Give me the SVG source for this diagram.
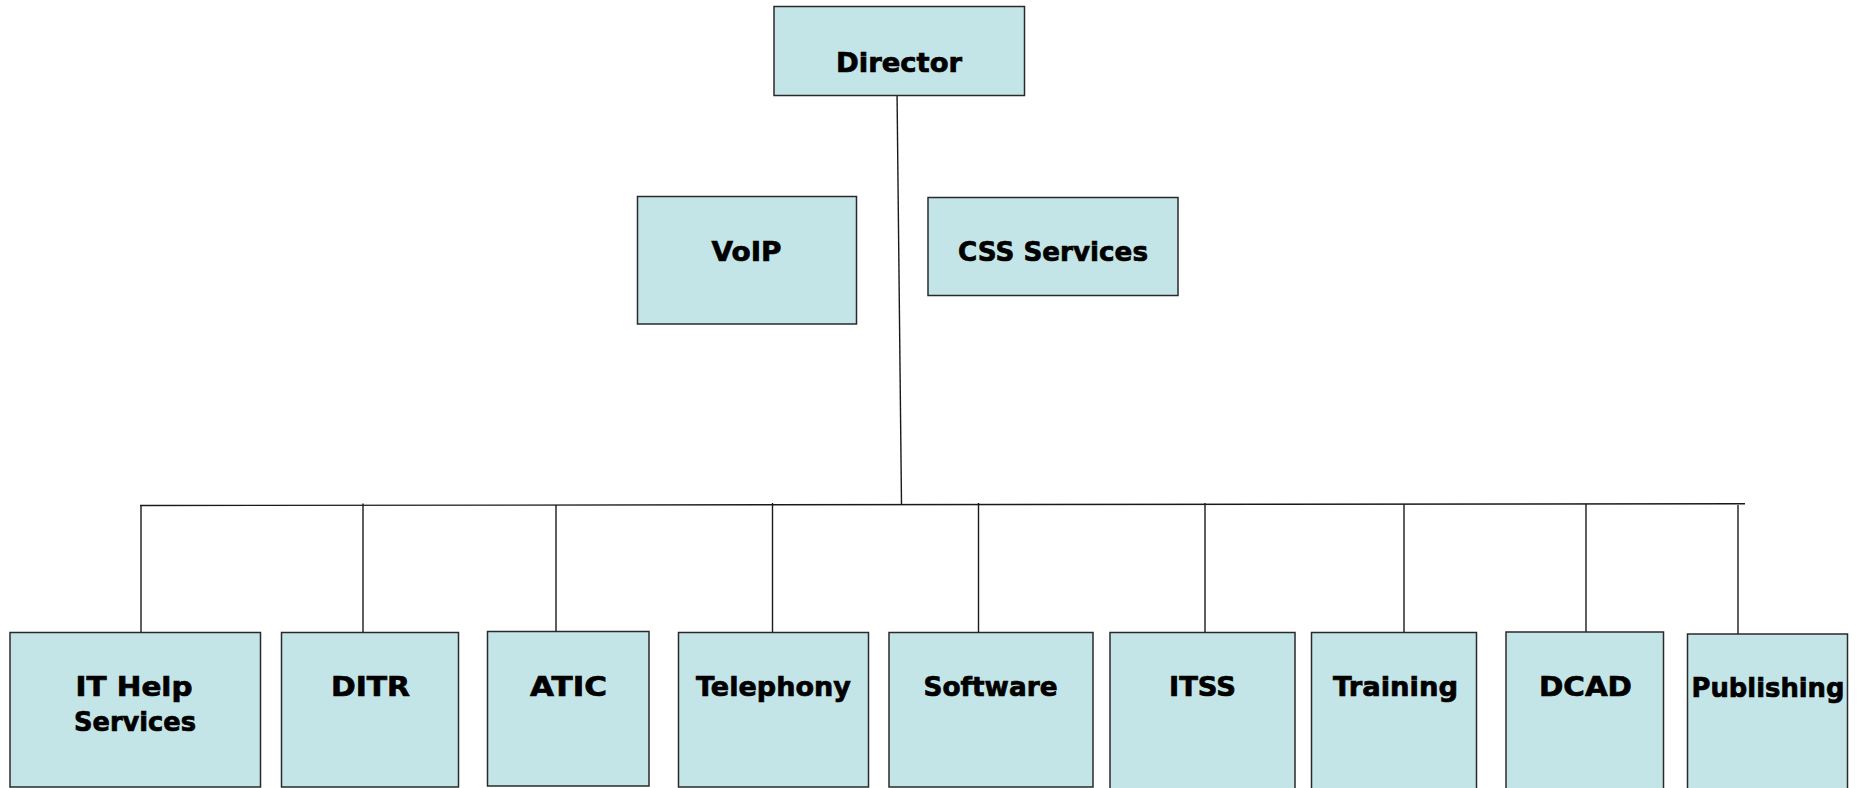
<svg xmlns="http://www.w3.org/2000/svg" width="1867" height="788" viewBox="0 0 1867 788">
  <style>
    .box { fill: #c4e5e7; stroke: #2a2a2a; stroke-width: 1.5; }
    .lbl { font-family: "DejaVu Sans", "Liberation Sans", sans-serif; font-weight: bold; font-size: 27px; fill: #000; stroke: #000; stroke-width: 0.7; text-anchor: middle; }
    .wire { stroke: #1a1a1a; stroke-width: 1.4; fill: none; }
  </style>
  <rect width="1867" height="788" fill="#ffffff"/>

  <!-- reporting lines -->
  <g id="connectors">
    <line class="wire" x1="897" y1="90" x2="901.5" y2="504.5"/>
    <line class="wire" x1="140" y1="505.5" x2="1745" y2="503.7"/>
    <line class="wire" x1="141" y1="505.5" x2="141" y2="632"/>
    <line class="wire" x1="363" y1="503.5" x2="363" y2="632"/>
    <line class="wire" x1="556" y1="505" x2="556" y2="631"/>
    <line class="wire" x1="772.5" y1="503" x2="772.5" y2="632"/>
    <line class="wire" x1="978.5" y1="503" x2="978.5" y2="632"/>
    <line class="wire" x1="1205" y1="503" x2="1205" y2="632"/>
    <line class="wire" x1="1404" y1="504" x2="1404" y2="633"/>
    <line class="wire" x1="1586" y1="504" x2="1586" y2="632"/>
    <line class="wire" x1="1738" y1="505" x2="1738" y2="634"/>
  </g>

  <g id="director">
    <rect class="box" x="774" y="6.5" width="250.5" height="89"/>
    <text class="lbl" x="899" y="72" textLength="126" lengthAdjust="spacingAndGlyphs">Director</text>
  </g>

  <g id="voip">
    <rect class="box" x="637.5" y="196.5" width="219" height="127.5"/>
    <text class="lbl" x="746.5" y="261" textLength="70" lengthAdjust="spacingAndGlyphs">VoIP</text>
  </g>

  <g id="css-services">
    <rect class="box" x="928" y="197.5" width="250" height="98"/>
    <text class="lbl" x="1053" y="261" textLength="190" lengthAdjust="spacingAndGlyphs">CSS Services</text>
  </g>

  <g id="it-help-services">
    <rect class="box" x="10" y="632.5" width="250.5" height="154.5"/>
    <text class="lbl" x="134" y="696" textLength="117" lengthAdjust="spacingAndGlyphs">IT Help</text>
    <text class="lbl" x="135" y="731" textLength="122" lengthAdjust="spacingAndGlyphs">Services</text>
  </g>

  <g id="ditr">
    <rect class="box" x="281.5" y="632.5" width="177" height="154.5"/>
    <text class="lbl" x="370.5" y="696" textLength="79" lengthAdjust="spacingAndGlyphs">DITR</text>
  </g>

  <g id="atic">
    <rect class="box" x="487.5" y="631.5" width="161.5" height="154.5"/>
    <text class="lbl" x="568.5" y="696" textLength="77" lengthAdjust="spacingAndGlyphs">ATIC</text>
  </g>

  <g id="telephony">
    <rect class="box" x="678.5" y="632.5" width="190" height="154.5"/>
    <text class="lbl" x="773.5" y="696" textLength="155" lengthAdjust="spacingAndGlyphs">Telephony</text>
  </g>

  <g id="software">
    <rect class="box" x="889" y="632.5" width="204" height="154.5"/>
    <text class="lbl" x="990.5" y="696" textLength="134" lengthAdjust="spacingAndGlyphs">Software</text>
  </g>

  <g id="itss">
    <rect class="box" x="1110" y="632.5" width="185" height="160"/>
    <text class="lbl" x="1202.5" y="696" textLength="67" lengthAdjust="spacingAndGlyphs">ITSS</text>
  </g>

  <g id="training">
    <rect class="box" x="1311.5" y="632.5" width="165" height="160"/>
    <text class="lbl" x="1395.5" y="696" textLength="125" lengthAdjust="spacingAndGlyphs">Training</text>
  </g>

  <g id="dcad">
    <rect class="box" x="1506" y="632" width="157.5" height="160"/>
    <text class="lbl" x="1585.5" y="696" textLength="93" lengthAdjust="spacingAndGlyphs">DCAD</text>
  </g>

  <g id="publishing">
    <rect class="box" x="1687.5" y="634" width="160" height="160"/>
    <text class="lbl" x="1768" y="697" textLength="153" lengthAdjust="spacingAndGlyphs">Publishing</text>
  </g>
</svg>
